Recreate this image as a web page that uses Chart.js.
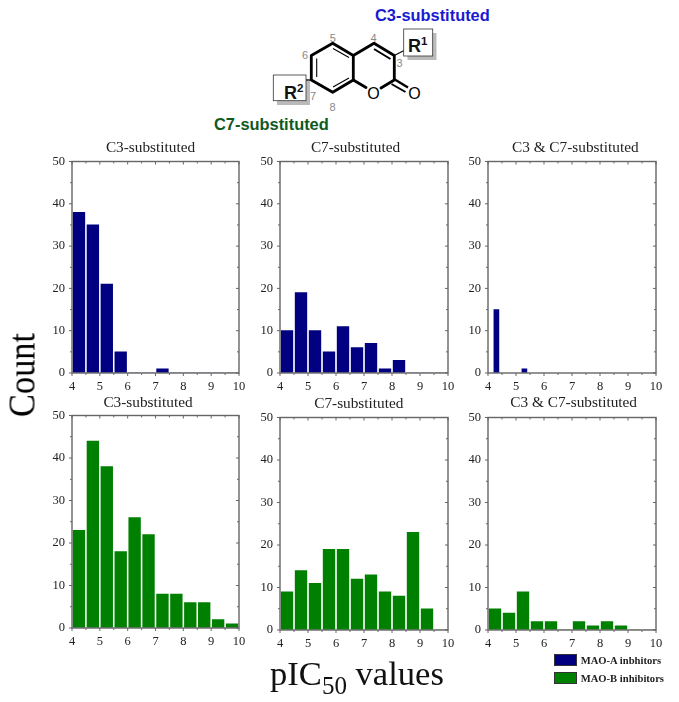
<!DOCTYPE html>
<html>
<head>
<meta charset="utf-8">
<script src="https://cdn.jsdelivr.net/npm/chart.js@4"></script>
<style>
html,body{margin:0;padding:0;background:#fff;}
body{position:relative;width:679px;height:702px;overflow:hidden;}
canvas{position:absolute;}
.t{position:absolute;white-space:nowrap;line-height:1;}
.title{font:15.3px "Liberation Serif",serif;color:#222;transform:translate(-50%,-50%);}
.leg{font:bold 10.6px "Liberation Serif",serif;color:#222;transform:translateY(-50%);}
.sw{position:absolute;width:23px;height:12px;box-sizing:border-box;border:1px solid #333;}
svg{position:absolute;left:0;top:0;}
</style>
</head>
<body>
<svg width="679" height="140" viewBox="0 0 679 140">
  <rect x="277" y="79" width="33" height="26" fill="#bbb"/>
  <rect x="407.5" y="33" width="29" height="27" fill="#bbb"/>
  <g fill="none" stroke="#000" stroke-width="2.8" stroke-linejoin="round" stroke-linecap="round">
    <path d="M332.7 43.3 L311.3 55.5 L311.3 80 L332.7 92.3 L353.3 80 L353.3 55.5 Z"/>
    <path d="M353.3 55.5 L374 43.3 L394.3 55.5 L394.3 80 L381 88"/>
    <path d="M353.3 80 L366 87.5"/>
  </g>
  <g fill="none" stroke="#000" stroke-width="1.1">
    <path d="M316.7 58.5 L316.7 77"/>
    <path d="M333 48.5 L349 57.5"/>
    <path d="M333 87 L349 78"/>
    <path d="M374 49 L390.5 59" stroke-width="2"/>
    <path d="M394 79 L408 87.5" stroke-width="2.4"/>
    <path d="M391.5 84 L405.5 92" stroke-width="2"/>
    <path d="M394.3 55.5 L404 50.5"/>
    <path d="M306 80 L311 80"/>
  </g>
  <rect x="273.3" y="75" width="32.7" height="25.7" fill="#fff" stroke="#333" stroke-width="0.8"/>
  <rect x="403.7" y="29" width="29" height="27" fill="#fff" stroke="#333" stroke-width="0.8"/>
  <text x="373.5" y="98.5" font-family="Liberation Sans" font-size="16" text-anchor="middle" fill="#000">O</text>
  <text x="414.5" y="98.5" font-family="Liberation Sans" font-size="16" text-anchor="middle" fill="#000">O</text>
  <g font-family="Liberation Sans" font-size="11" fill="#888" text-anchor="middle">
    <text x="332.7" y="42">5</text>
    <text x="373.5" y="42">4</text>
    <text x="305" y="59">6</text>
    <text x="399.5" y="67">3</text>
    <text x="313" y="100">7</text>
    <text x="332.5" y="111">8</text>
  </g>
  <text x="284" y="99" font-family="Liberation Sans" font-weight="bold" font-size="18" fill="#111">R<tspan dy="-7" font-size="11.5">2</tspan></text>
  <text x="408" y="52" font-family="Liberation Sans" font-weight="bold" font-size="18" fill="#111">R<tspan dy="-7" font-size="11.5">1</tspan></text>
  <text x="375" y="21" font-family="Liberation Sans" font-weight="bold" font-size="16.4" fill="#1a1ad0">C3-substituted</text>
  <text x="214" y="130" font-family="Liberation Sans" font-weight="bold" font-size="16.4" fill="#0f5a1e">C7-substituted</text>
</svg>

<canvas id="c0"></canvas><canvas id="c1"></canvas><canvas id="c2"></canvas>
<canvas id="c3"></canvas><canvas id="c4"></canvas><canvas id="c5"></canvas>

<div class="t title" style="left:150.5px;top:147px">C3-substituted</div>
<div class="t title" style="left:355.5px;top:147px">C7-substituted</div>
<div class="t title" style="left:575.3px;top:147px">C3 &amp; C7-substituted</div>
<div class="t title" style="left:148px;top:402px">C3-substituted</div>
<div class="t title" style="left:358.8px;top:402.5px">C7-substituted</div>
<div class="t title" style="left:573.7px;top:402px">C3 &amp; C7-substituted</div>

<div class="t" id="count" style="left:21.5px;top:375px;font:37px 'Liberation Serif',serif;color:#000;transform:translate(-50%,-50%) rotate(-90deg) scaleX(.93);">Count</div>
<div class="t" style="left:270px;top:653px;font:34.6px 'Liberation Serif',serif;color:#111;line-height:40px;">pIC<sub style="font-size:25px;line-height:0;vertical-align:-9px;">50</sub> values</div>

<div class="sw" style="left:554px;top:654px;background:#000080"></div>
<div class="sw" style="left:554px;top:672px;background:#008000"></div>
<div class="t leg" style="left:580.7px;top:660px">MAO-A inbhitors</div>
<div class="t leg" style="left:580.7px;top:678px">MAO-B inhibitors</div>

<script>
const binCenters = [4.25,4.75,5.25,5.75,6.25,6.75,7.25,7.75,8.25,8.75,9.25,9.75];
const narrowCenters = [4.3,5.3];
const maoAC3 = [38,35,21,5,0,0,1,0,0,0,0,0];
const maoAC7 = [10,19,10,5,11,6,7,1,3,0,0,0];
const maoAC3C7 = [15,1];
const maoBC3 = [23,44,38,18,26,22,8,8,6,6,2,1];
const maoBC7 = [9,14,11,19,19,12,13,9,8,23,5,0];
const maoBC3C7 = [5,4,9,2,2,0,2,1,2,1,0,0];

const NAVY = '#000080', GREEN = '#008000', AXIS = '#666';
const panels = [
  {id:'c0', x:72,    y:158.5, w:167.5, h:214.5, xs:binCenters,    ys:maoAC3,   color:NAVY,  bar:11.7},
  {id:'c1', x:280.3, y:158.5, w:168,   h:214.5, xs:binCenters,    ys:maoAC7,   color:NAVY,  bar:11.7},
  {id:'c2', x:488.3, y:158.5, w:168.3, h:214.5, xs:narrowCenters, ys:maoAC3C7, color:NAVY,  bar:5},
  {id:'c3', x:72,    y:413,   w:167.5, h:215,   xs:binCenters,    ys:maoBC3,   color:GREEN, bar:11.7},
  {id:'c4', x:280,   y:414.5, w:168,   h:215,   xs:binCenters,    ys:maoBC7,   color:GREEN, bar:11.7},
  {id:'c5', x:488.3, y:414.5, w:168.3, h:215,   xs:binCenters,    ys:maoBC3C7, color:GREEN, bar:11.7}
];

const framePlugin = {
  id:'frame',
  afterDatasetsDraw(chart){
    const {ctx, chartArea:a, scales:{x,y}} = chart;
    ctx.save();
    ctx.strokeStyle = AXIS;
    ctx.lineWidth = 1.4;
    ctx.strokeRect(a.left, a.top, a.right-a.left, a.bottom-a.top);
    ctx.lineWidth = 1;
    ctx.beginPath();
    for(let v=x.min; v<=x.max; v+=0.5){
      const p = x.getPixelForValue(v), major = Number.isInteger(v);
      ctx.moveTo(p, a.top); ctx.lineTo(p, a.top+(major?3:2));
      ctx.moveTo(p, a.bottom); ctx.lineTo(p, a.bottom+(major?3:2));
    }
    for(let v=y.min; v<=y.max; v+=5){
      const p = y.getPixelForValue(v), major = v%10===0;
      ctx.moveTo(a.right, p); ctx.lineTo(a.right-(major?3:2), p);
      ctx.moveTo(a.left, p); ctx.lineTo(a.left-(major?3:2), p);
    }
    ctx.stroke();
    ctx.restore();
  }
};

const PAD_L=40, PAD_T=12, PAD_R=14, PAD_B=28;
panels.forEach(p=>{
  const el = document.getElementById(p.id);
  el.width = p.w+PAD_L+PAD_R; el.height = p.h+PAD_T+PAD_B;
  el.style.left = (p.x-PAD_L)+'px';
  el.style.top = (p.y-PAD_T)+'px';
  el.style.width = el.width+'px';
  el.style.height = el.height+'px';
  const tickFont = {family:'"Liberation Serif",serif', size:12.5};
  new Chart(el.getContext('2d'),{
    type:'bar',
    data:{datasets:[{
      data:p.xs.map((v,i)=>({x:v,y:p.ys[i]})),
      backgroundColor:p.color,
      borderWidth:0,
      barThickness:p.bar
    }]},
    options:{
      responsive:false, animation:false,
      devicePixelRatio:1,
      layout:{padding:{top:PAD_T,right:PAD_R,left:0,bottom:0}},
      plugins:{legend:{display:false},title:{display:false},tooltip:{enabled:false}},
      scales:{
        x:{type:'linear',min:4,max:10,offset:false,
          afterFit(s){s.height=PAD_B;},
          grid:{drawOnChartArea:false,drawTicks:false,offset:false},
          border:{display:false},
          ticks:{stepSize:1,color:'#222',font:tickFont,padding:6,maxRotation:0,autoSkip:false}},
        y:{type:'linear',min:0,max:50,
          afterFit(s){s.width=PAD_L;},
          grid:{drawOnChartArea:false,drawTicks:false},
          border:{display:false},
          ticks:{stepSize:10,color:'#222',font:tickFont,padding:7}}
      }
    },
    plugins:[framePlugin]
  });
});
</script>
</body>
</html>
